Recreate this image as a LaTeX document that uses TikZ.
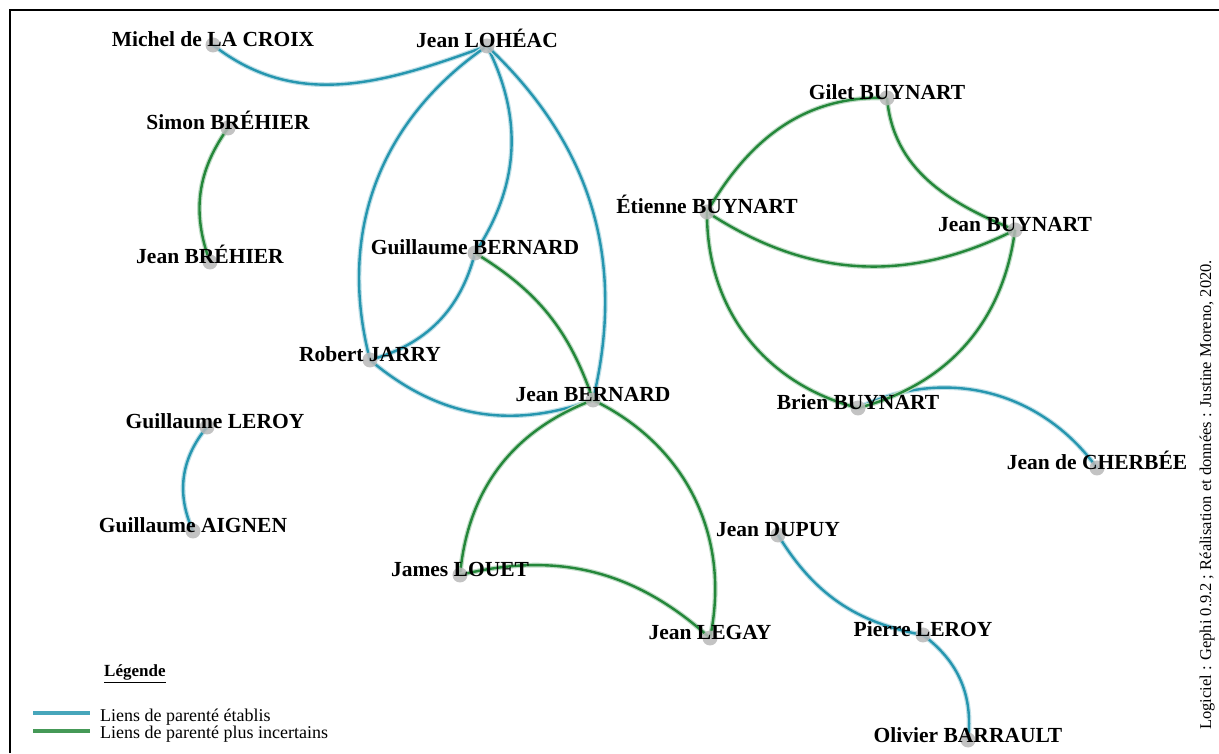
\documentclass[tikz,border=0pt]{standalone}
\usepackage{fontspec}
\setmainfont{Liberation Serif}
\definecolor{linkblue}{RGB}{38,150,175}
\definecolor{linkgreen}{RGB}{36,135,58}

\begin{document}
\begin{tikzpicture}[x=1pt,y=1pt,
  dot/.style={circle,fill=gray!55,fill opacity=0.85,minimum size=15pt,inner sep=0pt},
  who/.style={font=\fontsize{21.5}{21.5}\selectfont\bfseries,anchor=base,inner sep=0pt,yshift=-2pt},
  sure/.style={draw=linkblue,line width=2.4pt,preaction={draw=linkblue!30,line width=4.8pt}},
  unsure/.style={draw=linkgreen,line width=2.4pt,preaction={draw=linkgreen!30,line width=4.8pt}}]
  \useasboundingbox[fill=white] (0,0) rectangle (1219,753);
  % frame
  \draw[line width=2pt] (10,0) -- (10,743) -- (1219,743);

  % people
  \coordinate (michel) at (213,708);
  \coordinate (loheac) at (487,707);
  \coordinate (simon) at (228,625);
  \coordinate (jbrehier) at (210,491);
  \coordinate (gbernard) at (475,500);
  \coordinate (jarry) at (370,393);
  \coordinate (jbernard) at (593,353);
  \coordinate (gleroy) at (207,326);
  \coordinate (aignen) at (193,222);
  \coordinate (louet) at (460,178);
  \coordinate (legay) at (710,115);
  \coordinate (dupuy) at (778,218);
  \coordinate (pleroy) at (923,118);
  \coordinate (barrault) at (968,13);
  \coordinate (gilet) at (887,655);
  \coordinate (etienne) at (707,541);
  \coordinate (jbuynart) at (1015,523);
  \coordinate (brien) at (858,345);
  \coordinate (cherbee) at (1097,285);

  % established links
  \draw[sure] (michel) to[out=-38,in=200] (loheac);
  \draw[sure] (loheac) to[bend right=35] (jarry);
  \draw[sure] (jarry) to[bend right=30] (jbernard);
  \draw[sure] (loheac) to[bend left=30] (gbernard);
  \draw[sure] (loheac) to[bend left=30] (jbernard);
  \draw[sure] (gbernard) to[bend left=30] (jarry);
  \draw[sure] (gleroy) to[bend right=32] (aignen);
  \draw[sure] (brien) to[bend left=40] (cherbee);
  \draw[sure] (dupuy) to[bend right=24] (pleroy);
  \draw[sure] (pleroy) to[bend left=30] (barrault);

  % uncertain links
  \draw[unsure] (simon) to[bend right=28] (jbrehier);
  \draw[unsure] (gbernard) to[bend left=20] (jbernard);
  \draw[unsure] (jbernard) to[bend right=32] (louet);
  \draw[unsure] (jbernard) to[bend left=38] (legay);
  \draw[unsure] (louet) to[bend left=28] (legay);
  \draw[unsure] (gilet) to[out=178,in=60] (etienne);
  \draw[unsure] (gilet) to[out=-85,in=158] (jbuynart);
  \draw[unsure] (etienne) to[bend right=30] (jbuynart);
  \draw[unsure] (etienne) to[bend right=38] (brien);
  \draw[unsure] (jbuynart) to[bend left=34] (brien);

  \foreach \p in {michel,loheac,simon,jbrehier,gbernard,jarry,jbernard,gleroy,aignen,
    louet,legay,dupuy,pleroy,barrault,gilet,etienne,jbuynart,brien,cherbee}
    \node[dot] at (\p) {};

  \node[who] at (michel) {Michel de LA CROIX};
  \node[who] at (loheac) {Jean LOHÉAC};
  \node[who] at (simon) {Simon BRÉHIER};
  \node[who] at (jbrehier) {Jean BRÉHIER};
  \node[who] at (gbernard) {Guillaume BERNARD};
  \node[who] at (jarry) {Robert JARRY};
  \node[who] at (jbernard) {Jean BERNARD};
  \node[who,xshift=8pt] at (gleroy) {Guillaume LEROY};
  \node[who] at (aignen) {Guillaume AIGNEN};
  \node[who] at (louet) {James LOUET};
  \node[who] at (legay) {Jean LEGAY};
  \node[who] at (dupuy) {Jean DUPUY};
  \node[who] at (pleroy) {Pierre LEROY};
  \node[who] at (barrault) {Olivier BARRAULT};
  \node[who] at (gilet) {Gilet BUYNART};
  \node[who] at (etienne) {Étienne BUYNART};
  \node[who] at (jbuynart) {Jean BUYNART};
  \node[who] at (brien) {Brien BUYNART};
  \node[who] at (cherbee) {Jean de CHERBÉE};

  % legend
  \node[font=\fontsize{17}{17}\selectfont\bfseries,anchor=base west,inner sep=0pt] (legende) at (104,76) {\underline{Légende}};
  \draw[linkblue!85!white,line width=4pt] (33,40) -- (90,40);
  \draw[linkgreen!85!white,line width=4pt] (33,22) -- (90,22);
  \node[font=\fontsize{18}{18}\selectfont,anchor=base west,inner sep=0pt] (sure) at (100,31) {Liens de parenté établis};
  \node[font=\fontsize{18}{18}\selectfont,anchor=base west,inner sep=0pt] (unsure) at (100,15) {Liens de parenté plus incertains};

  \node[font=\fontsize{16.5}{16.5}\selectfont,rotate=90,anchor=base west,inner sep=0pt] (credits) at (1211,23)
    {Logiciel : Gephi 0.9.2 ; Réalisation et données : Justine Moreno, 2020.};
\end{tikzpicture}
\end{document}
